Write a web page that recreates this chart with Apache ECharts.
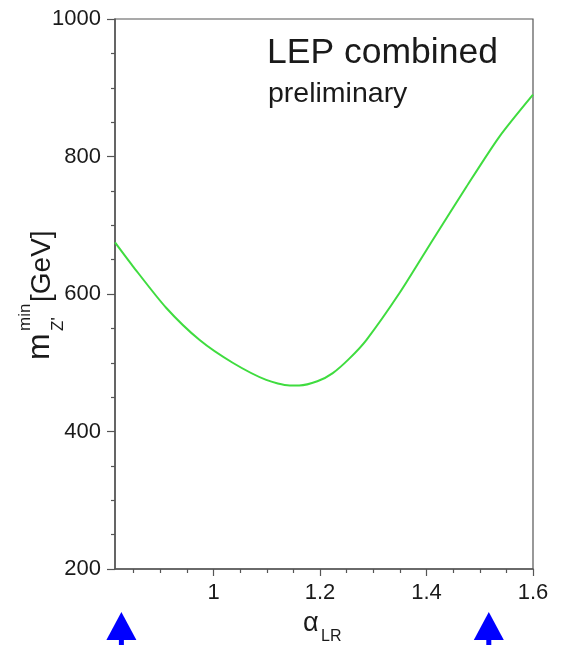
<!DOCTYPE html>
<html>
<head>
<meta charset="utf-8">
<script src="https://cdn.jsdelivr.net/npm/echarts@6/dist/echarts.min.js"></script>
<style>html,body{margin:0;padding:0;background:#fff;}#c{width:566px;height:645px;}</style>
</head>
<body>
<div id="c"></div>
<script>
// data
var alphaLR = [0.815, 0.848, 0.911, 0.974, 1.036, 1.099, 1.143, 1.161, 1.195, 1.224, 1.255, 1.287, 1.349, 1.412, 1.475, 1.537, 1.6];
var mZmin   = [675,   641,   580,   533,   500,   475,   467,   467,   473,   485,   506,   533,   601,   679,   756,   829,   890];
var xMajorTicks = [1, 1.2, 1.4, 1.6];
var xMinorTicks = [0.85, 0.9, 0.95, 1.05, 1.1, 1.15, 1.25, 1.3, 1.35, 1.45, 1.5, 1.55];
var arrowAlpha = [0.827, 1.517];
var xRange = [0.815, 1.6];
var yRange = [200, 1000];

var FONT = 'Liberation Sans';
var chart = echarts.init(document.getElementById('c'), null, {renderer: 'canvas'});
var axisCol = '#555';
var txtCol = '#1a1a1a';

var option = {
  animation: false,
  backgroundColor: '#fff',
  grid: {left: 115, right: 33, top: 19, bottom: 76, containLabel: false, outerBoundsMode: 'none',
    show: true, borderColor: axisCol, borderWidth: 1.2, backgroundColor: 'transparent'},
  xAxis: [{
    type: 'value', min: xRange[0], max: xRange[1], position: 'bottom',
    axisLine: {show: true, lineStyle: {color: axisCol, width: 1.5}},
    axisTick: {show: true, length: 7, inside: false, customValues: xMajorTicks, lineStyle: {color: axisCol, width: 1.2}},
    axisLabel: {customValues: xMajorTicks, fontFamily: FONT, fontSize: 22, color: txtCol, margin: 13,
      formatter: function (v) { return String(Math.round(v * 10) / 10); }},
    splitLine: {show: false}
  }, {
    type: 'value', min: xRange[0], max: xRange[1], position: 'bottom',
    axisLine: {show: false},
    axisTick: {show: true, length: 4, customValues: xMinorTicks, lineStyle: {color: axisCol, width: 1.2}},
    axisLabel: {show: false},
    splitLine: {show: false}
  }],
  yAxis: {
    type: 'value', min: yRange[0], max: yRange[1], interval: 200,
    axisLine: {show: true, lineStyle: {color: axisCol, width: 1.5}},
    axisTick: {show: true, length: 8, lineStyle: {color: axisCol, width: 1.2}},
    minorTick: {show: true, splitNumber: 4, length: 4, lineStyle: {color: axisCol, width: 1.2}},
    axisLabel: {fontFamily: FONT, fontSize: 22, color: txtCol, margin: 14,
      formatter: function (v) { return String(v); }},
    splitLine: {show: false}
  },
  graphic: [
    {type: 'text', left: 267, top: 35, style: {text: 'LEP combined', fontFamily: FONT, fontSize: 35.5, fill: txtCol}},
    {type: 'text', left: 268, top: 80, style: {text: 'preliminary', fontFamily: FONT, fontSize: 28.5, fill: txtCol}},
    // x-axis title: alpha_LR
    {type: 'text', left: 303, top: 610, style: {text: 'α', fontFamily: FONT, fontSize: 27, fill: txtCol}},
    {type: 'text', left: 321, top: 629, style: {text: 'LR', fontFamily: FONT, fontSize: 16, fill: txtCol}},
    // y-axis title: m^min_Z' [GeV], rotated
    {type: 'group', x: 56, y: 360, rotation: Math.PI / 2, children: [
      {type: 'text', x: 0, y: 0, style: {text: 'm', fontFamily: FONT, fontSize: 32, fill: txtCol, verticalAlign: 'bottom'}},
      {type: 'text', x: 29, y: -22, style: {text: 'min', fontFamily: FONT, fontSize: 17, fill: txtCol, verticalAlign: 'bottom'}},
      {type: 'text', x: 29, y: 11, style: {text: "Z'", fontFamily: FONT, fontSize: 17, fill: txtCol, verticalAlign: 'bottom'}},
      {type: 'text', x: 58, y: 0, style: {text: '[GeV]', fontFamily: FONT, fontSize: 28, fill: txtCol, verticalAlign: 'bottom'}}
    ]}
  ],
  series: [{
    type: 'line', data: alphaLR.map(function (a, i) { return [a, mZmin[i]]; }),
    smooth: 0.25, showSymbol: false, clip: true,
    lineStyle: {color: '#3fdc3f', width: 2}, itemStyle: {color: '#3fdc3f'}
  }, {
    type: 'custom', clip: false, silent: true,
    data: arrowAlpha.map(function (a) { return [a, yRange[0]]; }),
    renderItem: function (params, api) {
      var p = api.coord([api.value(0), api.value(1)]);
      var cx = p[0], y0 = p[1];
      return {type: 'group', children: [
        {type: 'polygon', shape: {points: [[cx, y0 + 43], [cx - 15, y0 + 71], [cx + 15, y0 + 71]]}, style: {fill: '#0000ff'}},
        {type: 'rect', shape: {x: cx - 2.5, y: y0 + 70, width: 5, height: 10}, style: {fill: '#0000ff'}}
      ]};
    }
  }]
};
chart.setOption(option);
</script>
</body>
</html>
